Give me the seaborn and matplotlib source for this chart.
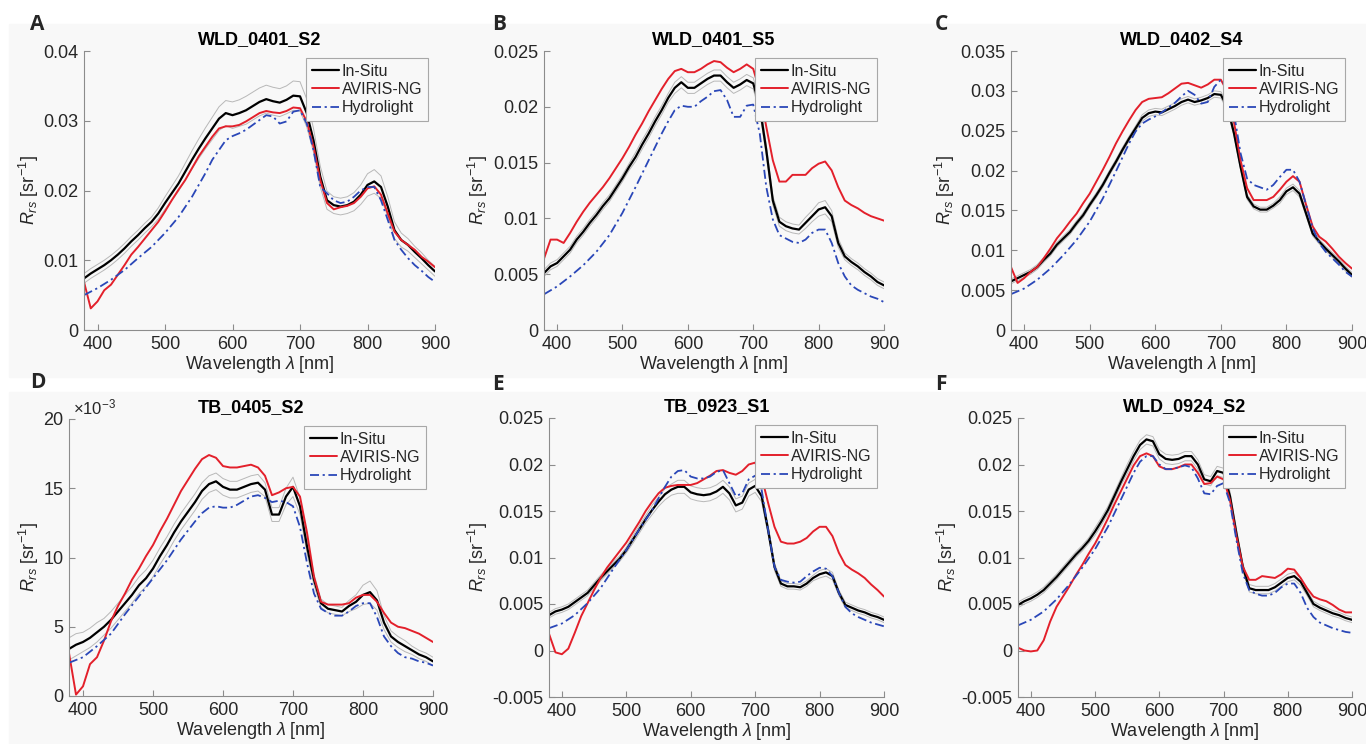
import numpy as np
import pandas as pd
import matplotlib
matplotlib.use("Agg")
import matplotlib.pyplot as plt
from matplotlib.patches import Rectangle
import seaborn as sns

# wavelengths (nm)
wl = list(range(380, 901, 10))
wl_hl = list(range(380, 560, 20)) + list(range(560, 901, 10))

titles = ["WLD_0401_S2", "WLD_0401_S5", "WLD_0402_S4",
          "TB_0405_S2", "TB_0923_S1", "WLD_0924_S2"]
letters = ["A", "B", "C", "D", "E", "F"]

# --- A: WLD_0401_S2
insitu_a = [0.0074, 0.0081, 0.0087, 0.0093, 0.0100, 0.0108, 0.0117, 0.0127, 0.0136, 0.0146,
            0.0155, 0.0167, 0.0182, 0.0196, 0.0210, 0.0227, 0.0244, 0.0260, 0.0275, 0.0289,
            0.0303, 0.0311, 0.0308, 0.0311, 0.0315, 0.0321, 0.0327, 0.0331, 0.0328, 0.0326,
            0.0330, 0.0336, 0.0335, 0.0311, 0.0272, 0.0220, 0.0186, 0.0179, 0.0177, 0.0179,
            0.0184, 0.0194, 0.0208, 0.0213, 0.0205, 0.0177, 0.0143, 0.0129, 0.0122, 0.0112,
            0.0103, 0.0093, 0.0084]
sd_a = [0.0007, 0.0007, 0.0007, 0.0007, 0.0007, 0.0007, 0.0007, 0.0007, 0.0007, 0.0007,
        0.0007, 0.0008, 0.0009, 0.0010, 0.0011, 0.0012, 0.0013, 0.0014, 0.0015, 0.0016,
        0.0017, 0.0018, 0.0019, 0.0019, 0.0020, 0.0020, 0.0020, 0.0020, 0.0020, 0.0020,
        0.0020, 0.0021, 0.0021, 0.0020, 0.0017, 0.0015, 0.0013, 0.0012, 0.0012, 0.0012,
        0.0013, 0.0014, 0.0016, 0.0017, 0.0016, 0.0014, 0.0012, 0.0010, 0.0009, 0.0008,
        0.0008, 0.0007, 0.0007]
aviris_a = [0.0069, 0.0031, 0.0041, 0.0057, 0.0065, 0.0079, 0.0093, 0.0108, 0.0119, 0.0131,
            0.0143, 0.0155, 0.0170, 0.0186, 0.0201, 0.0215, 0.0232, 0.0249, 0.0263, 0.0277,
            0.0289, 0.0292, 0.0292, 0.0294, 0.0299, 0.0305, 0.0311, 0.0314, 0.0312, 0.0311,
            0.0314, 0.0319, 0.0318, 0.0299, 0.0263, 0.0215, 0.0182, 0.0173, 0.0176, 0.0178,
            0.0182, 0.0191, 0.0203, 0.0206, 0.0194, 0.0167, 0.0141, 0.0129, 0.0122, 0.0115,
            0.0105, 0.0098, 0.0090]
hydro_a = [0.0050, 0.0060, 0.0072, 0.0086, 0.0103, 0.0119, 0.0139, 0.0162, 0.0191,
           0.0225, 0.0244, 0.0258, 0.0272, 0.0278, 0.0282, 0.0287, 0.0294, 0.0301, 0.0308,
           0.0306, 0.0296, 0.0299, 0.0313, 0.0315, 0.0296, 0.0258, 0.0205, 0.0196, 0.0186,
           0.0182, 0.0184, 0.0191, 0.0200, 0.0205, 0.0205, 0.0186, 0.0158, 0.0129, 0.0115,
           0.0103, 0.0093, 0.0085, 0.0076, 0.0069]

# --- B: WLD_0401_S5
insitu_b = [0.0051, 0.0057, 0.0060, 0.0066, 0.0072, 0.0081, 0.0088, 0.0096, 0.0103, 0.0111,
            0.0118, 0.0127, 0.0136, 0.0146, 0.0155, 0.0166, 0.0176, 0.0187, 0.0197, 0.0208,
            0.0217, 0.0222, 0.0217, 0.0217, 0.0221, 0.0225, 0.0228, 0.0228, 0.0222, 0.0217,
            0.0220, 0.0224, 0.0221, 0.0200, 0.0161, 0.0116, 0.0097, 0.0093, 0.0091, 0.0090,
            0.0096, 0.0102, 0.0108, 0.0110, 0.0102, 0.0078, 0.0066, 0.0061, 0.0057, 0.0052,
            0.0048, 0.0043, 0.0040]
sd_b = [0.0003, 0.0003, 0.0003, 0.0003, 0.0003, 0.0003, 0.0003, 0.0003, 0.0003, 0.0003,
        0.0003, 0.0003, 0.0003, 0.0003, 0.0004, 0.0004, 0.0004, 0.0004, 0.0004, 0.0004,
        0.0005, 0.0005, 0.0005, 0.0005, 0.0005, 0.0005, 0.0005, 0.0005, 0.0005, 0.0005,
        0.0005, 0.0005, 0.0005, 0.0005, 0.0005, 0.0004, 0.0004, 0.0004, 0.0004, 0.0004,
        0.0005, 0.0005, 0.0006, 0.0006, 0.0005, 0.0004, 0.0003, 0.0003, 0.0003, 0.0003,
        0.0003, 0.0003, 0.0003]
aviris_b = [0.0064, 0.0081, 0.0081, 0.0078, 0.0087, 0.0097, 0.0106, 0.0114, 0.0121, 0.0128,
            0.0136, 0.0145, 0.0154, 0.0164, 0.0175, 0.0185, 0.0196, 0.0206, 0.0216, 0.0225,
            0.0232, 0.0234, 0.0231, 0.0231, 0.0234, 0.0238, 0.0241, 0.0240, 0.0235, 0.0231,
            0.0234, 0.0238, 0.0234, 0.0214, 0.0182, 0.0152, 0.0133, 0.0133, 0.0139, 0.0139,
            0.0139, 0.0145, 0.0149, 0.0151, 0.0143, 0.0128, 0.0116, 0.0112, 0.0109, 0.0105,
            0.0102, 0.0100, 0.0098]
hydro_b = [0.0032, 0.0039, 0.0048, 0.0058, 0.0070, 0.0085, 0.0105, 0.0128, 0.0152,
           0.0176, 0.0187, 0.0197, 0.0201, 0.0200, 0.0200, 0.0205, 0.0209, 0.0214, 0.0215,
           0.0206, 0.0191, 0.0191, 0.0201, 0.0202, 0.0176, 0.0128, 0.0099, 0.0085, 0.0082,
           0.0079, 0.0078, 0.0081, 0.0087, 0.0090, 0.0090, 0.0078, 0.0060, 0.0048, 0.0040,
           0.0036, 0.0033, 0.0030, 0.0028, 0.0025]

# --- C: WLD_0402_S4
insitu_c = [0.0061, 0.0065, 0.0069, 0.0073, 0.0079, 0.0088, 0.0096, 0.0107, 0.0115, 0.0123,
            0.0134, 0.0144, 0.0157, 0.0169, 0.0182, 0.0197, 0.0211, 0.0226, 0.0240, 0.0253,
            0.0266, 0.0272, 0.0274, 0.0273, 0.0277, 0.0281, 0.0286, 0.0289, 0.0286, 0.0288,
            0.0291, 0.0296, 0.0295, 0.0280, 0.0247, 0.0205, 0.0167, 0.0155, 0.0151, 0.0151,
            0.0156, 0.0163, 0.0174, 0.0179, 0.0171, 0.0146, 0.0121, 0.0111, 0.0102, 0.0094,
            0.0086, 0.0077, 0.0069]
sd_c = [0.0003, 0.0003, 0.0003, 0.0003, 0.0003, 0.0003, 0.0003, 0.0003, 0.0003, 0.0003,
        0.0003, 0.0003, 0.0003, 0.0003, 0.0003, 0.0003, 0.0003, 0.0003, 0.0003, 0.0003,
        0.0004, 0.0004, 0.0004, 0.0004, 0.0004, 0.0004, 0.0004, 0.0004, 0.0004, 0.0004,
        0.0004, 0.0004, 0.0004, 0.0004, 0.0004, 0.0003, 0.0003, 0.0003, 0.0003, 0.0003,
        0.0003, 0.0004, 0.0004, 0.0004, 0.0004, 0.0003, 0.0003, 0.0003, 0.0003, 0.0003,
        0.0003, 0.0003, 0.0003]
aviris_c = [0.0079, 0.0059, 0.0065, 0.0073, 0.0079, 0.0090, 0.0102, 0.0115, 0.0125, 0.0136,
            0.0146, 0.0159, 0.0171, 0.0186, 0.0201, 0.0217, 0.0234, 0.0249, 0.0263, 0.0276,
            0.0286, 0.0290, 0.0291, 0.0292, 0.0297, 0.0303, 0.0309, 0.0310, 0.0307, 0.0304,
            0.0308, 0.0314, 0.0314, 0.0299, 0.0261, 0.0213, 0.0178, 0.0163, 0.0163, 0.0163,
            0.0167, 0.0176, 0.0186, 0.0193, 0.0186, 0.0157, 0.0130, 0.0117, 0.0111, 0.0102,
            0.0092, 0.0084, 0.0077]
hydro_c = [0.0045, 0.0052, 0.0063, 0.0077, 0.0094, 0.0113, 0.0136, 0.0165, 0.0199,
           0.0234, 0.0249, 0.0259, 0.0264, 0.0268, 0.0273, 0.0279, 0.0285, 0.0293, 0.0300,
           0.0295, 0.0284, 0.0286, 0.0305, 0.0314, 0.0305, 0.0272, 0.0222, 0.0190, 0.0182,
           0.0179, 0.0176, 0.0182, 0.0192, 0.0201, 0.0201, 0.0186, 0.0157, 0.0128, 0.0109,
           0.0098, 0.0090, 0.0082, 0.0073, 0.0067]

# --- D: TB_0405_S2 (values in 1e-3 sr^-1)
insitu_d = [3.4, 3.7, 3.9, 4.2, 4.6, 5.0, 5.5, 6.1, 6.7, 7.3,
            8.0, 8.5, 9.2, 10.1, 10.9, 11.8, 12.6, 13.3, 14.0, 14.8,
            15.3, 15.5, 15.1, 14.9, 14.9, 15.1, 15.3, 15.4, 14.9, 13.1,
            13.1, 14.4, 15.1, 13.7, 10.8, 8.4, 6.7, 6.3, 6.2, 6.1,
            6.5, 6.8, 7.3, 7.5, 6.9, 5.3, 4.3, 3.9, 3.6, 3.3,
            3.0, 2.8, 2.5]
sd_d = [0.8, 0.8, 0.7, 0.7, 0.7, 0.6, 0.6, 0.6, 0.6, 0.6,
        0.6, 0.6, 0.6, 0.6, 0.6, 0.6, 0.6, 0.6, 0.6, 0.6,
        0.6, 0.6, 0.6, 0.6, 0.6, 0.6, 0.6, 0.6, 0.5, 0.5,
        0.5, 0.6, 0.7, 0.6, 0.5, 0.4, 0.3, 0.3, 0.3, 0.3,
        0.4, 0.5, 0.7, 0.8, 0.7, 0.5, 0.4, 0.4, 0.4, 0.3,
        0.3, 0.3, 0.3]
aviris_d = [3.1, 0.1, 0.7, 2.3, 2.8, 4.0, 5.4, 6.5, 7.4, 8.4,
            9.2, 10.1, 10.9, 11.9, 12.8, 13.8, 14.8, 15.6, 16.4, 17.1,
            17.4, 17.2, 16.6, 16.5, 16.5, 16.6, 16.7, 16.5, 15.9, 14.5,
            14.7, 15.0, 15.1, 14.4, 11.8, 8.6, 6.8, 6.6, 6.6, 6.6,
            6.7, 7.1, 7.3, 7.3, 6.8, 6.0, 5.3, 5.0, 4.9, 4.7,
            4.5, 4.2, 3.9]
hydro_d = [2.4, 2.8, 3.6, 4.5, 5.9, 7.2, 8.5, 9.8, 11.3,
           12.6, 13.2, 13.6, 13.7, 13.6, 13.6, 13.8, 14.1, 14.4, 14.5,
           14.3, 14.0, 14.1, 14.0, 13.7, 12.2, 9.6, 7.4, 6.3, 6.0,
           5.8, 5.8, 6.1, 6.5, 6.7, 6.7, 5.7, 4.3, 3.6, 3.1,
           2.8, 2.7, 2.5, 2.4, 2.2]

# --- E: TB_0923_S1
insitu_e = [0.0038, 0.0042, 0.0044, 0.0047, 0.0052, 0.0057, 0.0062, 0.0070, 0.0078, 0.0085,
            0.0092, 0.0099, 0.0108, 0.0119, 0.0130, 0.0141, 0.0151, 0.0160, 0.0168, 0.0173,
            0.0176, 0.0176, 0.0170, 0.0168, 0.0167, 0.0168, 0.0171, 0.0176, 0.0169, 0.0156,
            0.0159, 0.0173, 0.0177, 0.0166, 0.0130, 0.0090, 0.0072, 0.0069, 0.0069, 0.0068,
            0.0072, 0.0078, 0.0082, 0.0084, 0.0080, 0.0062, 0.0049, 0.0046, 0.0043, 0.0041,
            0.0038, 0.0036, 0.0033]
sd_e = [0.0003, 0.0003, 0.0003, 0.0003, 0.0003, 0.0003, 0.0003, 0.0003, 0.0003, 0.0003,
        0.0003, 0.0003, 0.0003, 0.0004, 0.0004, 0.0004, 0.0005, 0.0005, 0.0006, 0.0006,
        0.0007, 0.0007, 0.0007, 0.0007, 0.0007, 0.0007, 0.0007, 0.0007, 0.0007, 0.0007,
        0.0007, 0.0007, 0.0007, 0.0006, 0.0005, 0.0004, 0.0003, 0.0003, 0.0003, 0.0003,
        0.0003, 0.0003, 0.0004, 0.0004, 0.0004, 0.0003, 0.0003, 0.0003, 0.0003, 0.0003,
        0.0003, 0.0003, 0.0003]
aviris_e = [0.0018, -0.0002, -0.0004, 0.0002, 0.0019, 0.0037, 0.0051, 0.0065, 0.0078, 0.0089,
            0.0098, 0.0107, 0.0116, 0.0127, 0.0138, 0.0150, 0.0160, 0.0169, 0.0175, 0.0177,
            0.0178, 0.0178, 0.0178, 0.0180, 0.0184, 0.0188, 0.0193, 0.0194, 0.0191, 0.0189,
            0.0193, 0.0200, 0.0202, 0.0187, 0.0159, 0.0133, 0.0117, 0.0115, 0.0115, 0.0117,
            0.0121, 0.0128, 0.0133, 0.0133, 0.0123, 0.0105, 0.0092, 0.0087, 0.0083, 0.0078,
            0.0071, 0.0065, 0.0058]
hydro_e = [0.0024, 0.0029, 0.0038, 0.0051, 0.0067, 0.0088, 0.0108, 0.0130, 0.0151,
           0.0176, 0.0187, 0.0193, 0.0194, 0.0187, 0.0185, 0.0185, 0.0187, 0.0192, 0.0194,
           0.0180, 0.0166, 0.0169, 0.0184, 0.0188, 0.0173, 0.0130, 0.0090, 0.0076, 0.0074,
           0.0073, 0.0074, 0.0080, 0.0085, 0.0089, 0.0088, 0.0080, 0.0062, 0.0047, 0.0040,
           0.0036, 0.0033, 0.0030, 0.0028, 0.0026]

# --- F: WLD_0924_S2
insitu_f = [0.0049, 0.0053, 0.0056, 0.0060, 0.0065, 0.0072, 0.0079, 0.0087, 0.0095, 0.0103,
            0.0110, 0.0118, 0.0128, 0.0139, 0.0151, 0.0166, 0.0181, 0.0195, 0.0209, 0.0221,
            0.0227, 0.0225, 0.0211, 0.0206, 0.0205, 0.0206, 0.0209, 0.0209, 0.0200, 0.0184,
            0.0182, 0.0193, 0.0191, 0.0166, 0.0126, 0.0090, 0.0067, 0.0065, 0.0065, 0.0065,
            0.0068, 0.0073, 0.0078, 0.0080, 0.0074, 0.0062, 0.0050, 0.0046, 0.0043, 0.0040,
            0.0038, 0.0035, 0.0033]
sd_f = [0.0003, 0.0003, 0.0003, 0.0003, 0.0003, 0.0003, 0.0003, 0.0003, 0.0003, 0.0003,
        0.0003, 0.0003, 0.0004, 0.0004, 0.0004, 0.0004, 0.0004, 0.0005, 0.0005, 0.0005,
        0.0005, 0.0005, 0.0005, 0.0005, 0.0005, 0.0005, 0.0005, 0.0005, 0.0005, 0.0005,
        0.0005, 0.0005, 0.0005, 0.0005, 0.0005, 0.0004, 0.0004, 0.0004, 0.0004, 0.0004,
        0.0004, 0.0004, 0.0004, 0.0004, 0.0004, 0.0003, 0.0003, 0.0003, 0.0003, 0.0003,
        0.0003, 0.0003, 0.0003]
aviris_f = [0.0003, 0.0000, -0.0001, 0.0000, 0.0011, 0.0031, 0.0047, 0.0058, 0.0069, 0.0081,
            0.0092, 0.0104, 0.0115, 0.0128, 0.0142, 0.0157, 0.0171, 0.0185, 0.0199, 0.0209,
            0.0212, 0.0209, 0.0198, 0.0195, 0.0195, 0.0197, 0.0200, 0.0200, 0.0191, 0.0179,
            0.0180, 0.0187, 0.0184, 0.0162, 0.0123, 0.0090, 0.0076, 0.0076, 0.0080, 0.0079,
            0.0078, 0.0082, 0.0088, 0.0087, 0.0078, 0.0067, 0.0058, 0.0055, 0.0053, 0.0049,
            0.0044, 0.0041, 0.0041]
hydro_f = [0.0027, 0.0033, 0.0042, 0.0055, 0.0071, 0.0089, 0.0109, 0.0133, 0.0162,
           0.0191, 0.0203, 0.0209, 0.0209, 0.0200, 0.0195, 0.0195, 0.0197, 0.0199, 0.0197,
           0.0185, 0.0169, 0.0168, 0.0177, 0.0180, 0.0159, 0.0119, 0.0083, 0.0065, 0.0061,
           0.0059, 0.0059, 0.0062, 0.0068, 0.0072, 0.0072, 0.0062, 0.0046, 0.0036, 0.0030,
           0.0027, 0.0024, 0.0022, 0.0020, 0.0019]

insitu = [insitu_a, insitu_b, insitu_c, insitu_d, insitu_e, insitu_f]
sds = [sd_a, sd_b, sd_c, sd_d, sd_e, sd_f]
aviris = [aviris_a, aviris_b, aviris_c, aviris_d, aviris_e, aviris_f]
hydro = [hydro_a, hydro_b, hydro_c, hydro_d, hydro_e, hydro_f]

yticks = [
    [0, 0.01, 0.02, 0.03, 0.04],
    [0, 0.005, 0.01, 0.015, 0.02, 0.025],
    [0, 0.005, 0.01, 0.015, 0.02, 0.025, 0.03, 0.035],
    [0, 5, 10, 15, 20],
    [-0.005, 0, 0.005, 0.01, 0.015, 0.02, 0.025],
    [-0.005, 0, 0.005, 0.01, 0.015, 0.02, 0.025],
]

sns.set_theme(style="ticks")
plt.rcParams["font.family"] = ["Liberation Sans", "DejaVu Sans"]
plt.rcParams["mathtext.fontset"] = "custom"
plt.rcParams["mathtext.rm"] = "Liberation Sans"
plt.rcParams["mathtext.it"] = "Liberation Sans:italic"
plt.rcParams["mathtext.bf"] = "Liberation Sans:bold"

W, H = 1366, 744
fig = plt.figure(figsize=(W / 100, H / 100), dpi=100, facecolor="white")

bg = "#f8f8f8"
fig.add_artist(Rectangle((9 / W, 1 - 377 / H), 1, (377 - 24) / H,
                         transform=fig.transFigure, color=bg, zorder=-10))
fig.add_artist(Rectangle((9 / W, 0), 1, 1 - 392 / H,
                         transform=fig.transFigure, color=bg, zorder=-10))

# axes boxes in pixels: left, top, right, bottom
boxes = [(84, 51, 435, 330), (544, 51, 884, 330), (1011, 51, 1352, 330),
         (69, 419, 433, 696), (549, 418, 884, 697), (1018, 418, 1352, 697)]
letter_pos = [(30, 24), (492, 24), (935, 24), (30, 383), (492, 385), (935, 385)]

grey = "#8c8c8c"
txt = "#262626"

for i in range(6):
    l, t, r, b = boxes[i]
    ax = fig.add_axes([l / W, 1 - b / H, (r - l) / W, (b - t) / H])
    ax.set_facecolor(bg)

    ins = np.array(insitu[i])
    sd = np.array(sds[i])
    sns.lineplot(x=wl, y=ins + sd, ax=ax, color="#b8b8b8", linewidth=0.7)
    sns.lineplot(x=wl, y=ins - sd, ax=ax, color="#b8b8b8", linewidth=0.7)
    sns.lineplot(x=wl, y=ins, ax=ax, color="black", linewidth=1.6, label="In-Situ")
    sns.lineplot(x=wl, y=aviris[i], ax=ax, color="#e3202b", linewidth=1.4, label="AVIRIS-NG")
    sns.lineplot(x=wl_hl, y=hydro[i], ax=ax, color="#2a47b8", linewidth=1.3,
                 linestyle=(0, (5, 2, 1.2, 2)), label="Hydrolight")

    ax.set_xlim(380, 900)
    ax.set_xticks([400, 500, 600, 700, 800, 900])
    yt = yticks[i]
    ax.set_ylim(yt[0], yt[-1])
    ax.set_yticks(yt)
    ax.set_yticklabels(["{:g}".format(v) for v in yt])

    sns.despine(ax=ax)
    for s in ["left", "bottom"]:
        ax.spines[s].set_color(grey)
        ax.spines[s].set_linewidth(0.8)
    ax.tick_params(direction="in", length=4, width=0.8, color=grey,
                   labelcolor=txt, labelsize=13, pad=4)

    ax.set_xlabel(r"Wavelength $\lambda$ [nm]", fontsize=13, color=txt, labelpad=1)
    ax.set_ylabel(r"$R_{rs}$ [sr$^{-1}$]", fontsize=13, color=txt, labelpad=2)
    ax.set_title(titles[i], fontsize=13, fontweight="bold", color="black", pad=5)

    leg = ax.legend(loc="upper right", fontsize=11.5, frameon=True, fancybox=False,
                    edgecolor="#a8a8a8", facecolor=bg, framealpha=1,
                    handlelength=1.7, handletextpad=0.15, labelspacing=0.2,
                    borderpad=0.35, borderaxespad=0.45)
    leg.get_frame().set_linewidth(0.8)

    if i == 3:
        ax.text(0.01, 1.005, r"$\times$10$^{-3}$", transform=ax.transAxes,
                fontsize=12, color=txt, ha="left", va="bottom")

    lx, ly = letter_pos[i]
    fig.text(lx / W, 1 - ly / H, letters[i], fontsize=15, fontweight="bold",
             family="Open Sans", ha="left", va="center")

fig.savefig("out.png", dpi=100, facecolor="white")
